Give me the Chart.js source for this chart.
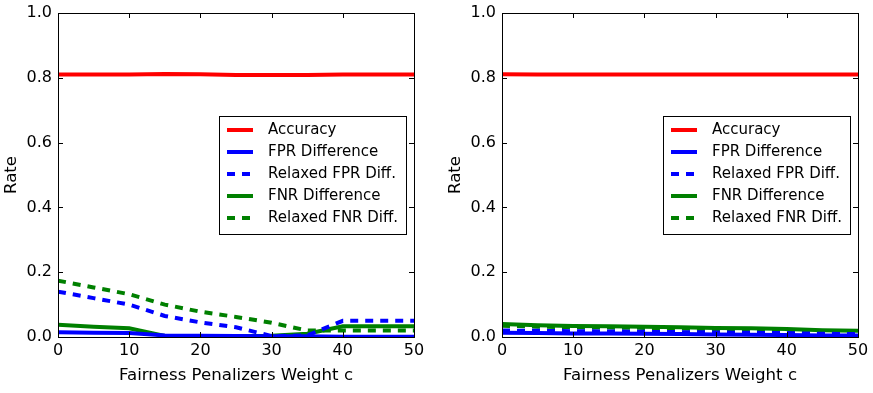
<!DOCTYPE html>
<html>
<head>
<meta charset="utf-8">
<script src="https://cdn.jsdelivr.net/npm/chart.js@4.4.1/dist/chart.umd.min.js"></script>
<style>
  body { margin: 0; background: #fff; width: 873px; height: 393px; overflow: hidden; position: relative; }
  .panel { position: absolute; top: 0; height: 393px; }
</style>
</head>
<body>
<div class="panel" style="left:0;width:436px"><canvas id="leftChart"></canvas></div>
<div class="panel" style="left:437px;width:436px"><canvas id="rightChart"></canvas></div>
<script>
const weights = [0, 5, 10, 15, 20, 25, 30, 35, 40, 45, 50];
const seriesNames = ["Accuracy", "FPR Difference", "Relaxed FPR Diff.", "FNR Difference", "Relaxed FNR Diff."];
const xTicks = [0, 10, 20, 30, 40, 50];
const yTicks = [0, 0.2, 0.4, 0.6, 0.8, 1.0];

// left panel
const leftAccuracy = [0.810, 0.810, 0.810, 0.812, 0.811, 0.809, 0.809, 0.809, 0.810, 0.810, 0.810];
const leftFpr = [0.015, 0.013, 0.012, 0.005, 0.004, 0.003, 0.002, 0.002, 0.001, 0.001, 0.001];
const leftRelaxedFpr = [0.140, 0.120, 0.100, 0.065, 0.045, 0.030, 0.003, 0.005, 0.050, 0.050, 0.050];
const leftFnr = [0.038, 0.032, 0.027, 0.003, 0.002, 0.002, 0.004, 0.010, 0.033, 0.033, 0.033];
const leftRelaxedFnr = [0.174, 0.153, 0.132, 0.100, 0.078, 0.062, 0.044, 0.020, 0.020, 0.020, 0.020];

// right panel
const rightAccuracy = [0.811, 0.810, 0.810, 0.810, 0.810, 0.810, 0.810, 0.810, 0.810, 0.810, 0.810];
const rightFpr = [0.013, 0.012, 0.011, 0.011, 0.010, 0.009, 0.008, 0.007, 0.006, 0.005, 0.005];
const rightRelaxedFpr = [0.020, 0.019, 0.018, 0.017, 0.016, 0.015, 0.014, 0.013, 0.012, 0.010, 0.009];
const rightFnr = [0.040, 0.036, 0.034, 0.033, 0.032, 0.030, 0.028, 0.027, 0.025, 0.021, 0.019];
const rightRelaxedFnr = [0.035, 0.032, 0.030, 0.029, 0.028, 0.026, 0.024, 0.023, 0.021, 0.017, 0.016];

const colors = ["#ff0000", "#0000ff", "#0000ff", "#008000", "#008000"];
const dashes = [[], [], [8, 7], [], [8, 7]];
const FONT = "'DejaVu Sans', sans-serif";

// frame, inward ticks and a matplotlib-like legend box
const axesBox = {
  id: "axesBox",
  afterDraw(chart) {
    const { ctx, chartArea: a, scales } = chart;
    ctx.save();
    ctx.strokeStyle = "#000";
    ctx.lineWidth = 1;
    ctx.beginPath();
    xTicks.forEach(v => {
      const x = Math.round(scales.x.getPixelForValue(v)) + 0.5;
      ctx.moveTo(x, a.bottom); ctx.lineTo(x, a.bottom - 5);
      ctx.moveTo(x, a.top); ctx.lineTo(x, a.top + 5);
    });
    yTicks.forEach(v => {
      const y = Math.round(scales.y.getPixelForValue(v)) + 0.5;
      ctx.moveTo(a.left, y); ctx.lineTo(a.left + 5, y);
      ctx.moveTo(a.right, y); ctx.lineTo(a.right - 5, y);
    });
    ctx.stroke();
    ctx.strokeRect(Math.round(a.left) + 0.5, Math.round(a.top) + 0.5, Math.round(a.width), Math.round(a.height));

    // legend, centre right
    ctx.font = "15px " + FONT;
    const ds = chart.data.datasets;
    const textW = Math.max(...ds.map(d => ctx.measureText(d.label).width));
    const rowH = 22;
    const w = 8 + 26 + 15 + textW + 8;
    const h = ds.length * rowH + 8;
    const left = Math.round(a.right - 8 - w);
    const top = Math.round((a.top + a.bottom) / 2 - h / 2);
    ctx.fillStyle = "#fff";
    ctx.fillRect(left, top, w, h);
    ctx.strokeRect(left + 0.5, top + 0.5, Math.round(w), h);
    ds.forEach((d, i) => {
      const cy = top + 14 + i * rowH;
      ctx.strokeStyle = d.borderColor;
      ctx.lineWidth = 4;
      ctx.setLineDash(d.borderDash.length ? [8, 7] : []);
      ctx.beginPath();
      ctx.moveTo(left + 8, cy); ctx.lineTo(left + 34, cy);
      ctx.stroke();
      ctx.setLineDash([]);
      ctx.fillStyle = "#000";
      ctx.textBaseline = "middle";
      ctx.fillText(d.label, left + 49, cy);
    });
    ctx.restore();
  }
};

function makeChart(id, series, leftPad, rightPad) {
  return new Chart(document.getElementById(id), {
    type: "line",
    data: {
      datasets: series.map((vals, i) => ({
        label: seriesNames[i],
        data: weights.map((w, j) => ({ x: w, y: vals[j] })),
        borderColor: colors[i],
        backgroundColor: colors[i],
        borderWidth: 4,
        borderDash: dashes[i],
        borderCapStyle: "butt",
        pointRadius: 0,
        tension: 0,
        fill: false
      }))
    },
    options: {
      responsive: true,
      maintainAspectRatio: false,
      animation: false,
      layout: { padding: { top: 13, right: rightPad, left: leftPad, bottom: 0 } },
      plugins: { legend: { display: false }, tooltip: { enabled: false } },
      scales: {
        x: {
          type: "linear", min: 0, max: 50,
          afterFit: s => { s.height = 56; s.paddingLeft = 0; s.paddingRight = 0; },
          afterBuildTicks: s => { s.ticks = xTicks.map(v => ({ value: v })); },
          grid: { display: false, drawTicks: false },
          border: { display: false },
          ticks: { color: "#000", font: { family: FONT, size: 16 }, padding: 4, maxRotation: 0 },
          title: { display: true, text: "Fairness Penalizers Weight c", color: "#000", font: { family: FONT, size: 16.6 }, padding: { top: 0, bottom: 7 } }
        },
        y: {
          min: 0, max: 1,
          afterFit: s => { s.width = 56; s.paddingTop = 0; s.paddingBottom = 0; },
          afterBuildTicks: s => { s.ticks = yTicks.map(v => ({ value: v })); },
          grid: { display: false, drawTicks: false },
          border: { display: false },
          ticks: { color: "#000", font: { family: FONT, size: 16 }, padding: 6, callback: v => v.toFixed(1) },
          title: { display: true, text: "Rate", color: "#000", font: { family: FONT, size: 16.6 }, padding: { top: 0, bottom: 0 } }
        }
      }
    },
    plugins: [axesBox]
  });
}

makeChart("leftChart", [leftAccuracy, leftFpr, leftRelaxedFpr, leftFnr, leftRelaxedFnr], 2, 22);
makeChart("rightChart", [rightAccuracy, rightFpr, rightRelaxedFpr, rightFnr, rightRelaxedFnr], 9, 15);
</script>
</body>
</html>
